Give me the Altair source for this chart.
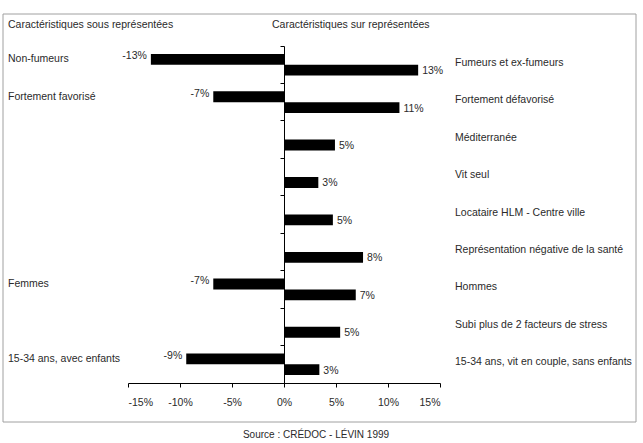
import altair as alt
import pandas as pd

# ---- data ----
right_labels = [
    "Fumeurs et ex-fumeurs",
    "Fortement défavorisé",
    "Méditerranée",
    "Vit seul",
    "Locataire HLM - Centre ville",
    "Représentation négative de la santé",
    "Hommes",
    "Subi plus de 2 facteurs de stress",
    "15-34 ans, vit en couple, sans enfants",
]
left_labels = [
    "Non-fumeurs",
    "Fortement favorisé",
    None, None, None, None,
    "Femmes",
    None,
    "15-34 ans, avec enfants",
]
pos_values = [0.129, 0.111, 0.049, 0.033, 0.047, 0.076, 0.069, 0.054, 0.034]
neg_values = [-0.128, -0.068, None, None, None, None, -0.068, None, -0.094]
x_ticks = [-0.15, -0.10, -0.05, 0.0, 0.05, 0.10, 0.15]
header_left = "Caractéristiques sous représentées"
header_right = "Caractéristiques sur représentées"
source_text = "Source : CRÉDOC - LÉVIN 1999"

FONT = "Liberation Sans, Arial"
FS = 10.5
TXT = "#2a2a2a"

rows = []
for i, g in enumerate(right_labels):
    rows.append({"group": g, "side": "pos", "value": pos_values[i],
                 "label": f"{round(pos_values[i]*100):d}%", "cat": g})
    if neg_values[i] is not None:
        rows.append({"group": g, "side": "neg", "value": neg_values[i],
                     "label": f"-{round(-neg_values[i]*100):d}%", "cat": left_labels[i]})
df = pd.DataFrame(rows)

yenc = alt.Y("group:N", sort=right_labels,
             scale=alt.Scale(paddingInner=0, paddingOuter=0),
             axis=alt.Axis(labels=False, title=None, offset=-156, bandPosition=0,
                           tickSize=4, tickColor="black", domainColor="black",
                           domainWidth=1, tickWidth=1, grid=False))
yoff = alt.YOffset("side:N", scale=alt.Scale(domain=["neg", "pos"], paddingOuter=0.73,
                                             paddingInner=0))
xenc = alt.X("value:Q", scale=alt.Scale(domain=[-0.15, 0.15], nice=False),
             axis=alt.Axis(values=x_ticks, labelExpr="round(datum.value*100) + '%'",
                           title=None, tickSize=4, labelPadding=10, grid=False,
                           domainColor="black", tickColor="black",
                           labelFont=FONT, labelFontSize=FS, labelColor=TXT))

base = alt.Chart(df)
ysort = alt.Y("group:N", sort=right_labels)

bars = base.mark_bar(color="black").encode(x=xenc, y=yenc, yOffset=yoff)

neg_txt = base.transform_filter("datum.side == 'neg'").mark_text(
    align="right", baseline="middle", dx=-4, dy=-3, font=FONT, fontSize=FS, color=TXT
).encode(x="value:Q", y=ysort, yOffset=yoff, text="label:N")

pos_txt = base.transform_filter("datum.side == 'pos'").mark_text(
    align="left", baseline="middle", dx=4, dy=1, font=FONT, fontSize=FS, color=TXT
).encode(x="value:Q", y=ysort, yOffset=yoff, text="label:N")

left_cat = base.transform_filter("datum.side == 'neg'").mark_text(
    align="left", baseline="middle", font=FONT, fontSize=FS, color=TXT
).encode(x=alt.value(-120), y=ysort, yOffset=yoff, text="cat:N")

right_cat = base.transform_filter("datum.side == 'pos'").mark_text(
    align="left", baseline="middle", dy=-2, font=FONT, fontSize=FS, color=TXT
).encode(x=alt.value(327), y=ysort, text="cat:N")

h_left = alt.Chart(pd.DataFrame({"t": [header_left]})).mark_text(
    align="left", baseline="middle", font=FONT, fontSize=FS, color=TXT
).encode(x=alt.value(-120), y=alt.value(-21), text="t:N")
h_right = alt.Chart(pd.DataFrame({"t": [header_right]})).mark_text(
    align="left", baseline="middle", font=FONT, fontSize=FS, color=TXT
).encode(x=alt.value(144), y=alt.value(-21), text="t:N")
src = alt.Chart(pd.DataFrame({"t": [source_text]})).mark_text(
    align="center", baseline="top", font=FONT, fontSize=10, color=TXT
).encode(x=alt.value(188), y=alt.value(384), text="t:N")

frame = alt.Chart(pd.DataFrame({"t": [0]})).mark_rect(
    fill=None, stroke="#a0a0a0", strokeWidth=1
).encode(x=alt.value(-125), x2=alt.value(508), y=alt.value(-32), y2=alt.value(376))

chart = alt.layer(frame, bars, neg_txt, pos_txt, left_cat, right_cat, h_left, h_right, src).properties(
    width=312, height=337,
    padding={"left": 128, "top": 46, "right": 203, "bottom": 60},
    autosize=alt.AutoSizeParams(type="none"),
    background="white",
).configure_view(stroke=None)

chart.save("out.html", embed_options={"renderer": "svg", "actions": False})
